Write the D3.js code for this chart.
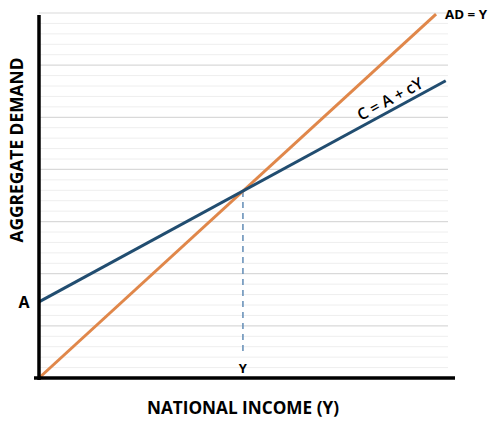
<!DOCTYPE html>
<html>
<head>
<meta charset="utf-8">
<script src="https://cdn.jsdelivr.net/npm/d3@7"></script>
<style>
  body { margin: 0; background: #fff; }
  svg { display: block; }
</style>
</head>
<body>
<div id="chart"></div>
<script>
// --- data ---
const adPoints = [[0, 0], [6.98, 6.98]];            // AD = Y (45 degree line)
const consPoints = [[0, 1.46], [7.15, 5.70]];       // C = A + cY
const equilibriumY = 3.585;
const yMajorTicks = [0, 1, 2, 3, 4, 5, 6, 7];
const minorPerMajor = 5;
const lineLabels = ["AD = Y", "C = A + cY"];
const axisTitles = ["NATIONAL INCOME (Y)", "AGGREGATE DEMAND"];

const width = 500, height = 421;
const x0 = 39, yBottom = 378;

const x = d3.scaleLinear().domain([0, 7.19]).range([x0, 448]);
const y = d3.scaleLinear().domain([0, 7]).range([yBottom, 13]);

const svg = d3.select("#chart").append("svg")
  .attr("width", width)
  .attr("height", height)
  .style("font-family", "'Open Sans', sans-serif");

// grid lines (minor then major)
const minorTicks = d3.range(0, 7 * minorPerMajor + 1).map(i => i / minorPerMajor)
  .filter(v => !yMajorTicks.includes(Math.round(v * 1000) / 1000));

svg.append("g").selectAll("line")
  .data(minorTicks)
  .join("line")
  .attr("x1", x(0)).attr("x2", x(7.19))
  .attr("y1", d => y(d)).attr("y2", d => y(d))
  .attr("stroke", "#eeeeee").attr("stroke-width", 1);

svg.append("g").selectAll("line")
  .data(yMajorTicks.filter(d => d > 0))
  .join("line")
  .attr("x1", x(0)).attr("x2", x(7.19))
  .attr("y1", d => y(d)).attr("y2", d => y(d))
  .attr("stroke", "#d9d9d9").attr("stroke-width", 1.2);

const line = d3.line().x(d => x(d[0])).y(d => y(d[1]));
const consAt = v => consPoints[0][1] + (consPoints[1][1] - consPoints[0][1]) / (consPoints[1][0] - consPoints[0][0]) * v;

// dashed drop line at equilibrium
svg.append("line")
  .attr("x1", x(equilibriumY)).attr("x2", x(equilibriumY))
  .attr("y1", y(consAt(equilibriumY))).attr("y2", 352)
  .attr("stroke", "#6b93ba").attr("stroke-width", 1.6)
  .attr("stroke-dasharray", "6,5");

// AD = Y
svg.append("path")
  .datum(adPoints)
  .attr("d", line)
  .attr("fill", "none")
  .attr("stroke", "#e0874a")
  .attr("stroke-width", 3);

// C = A + cY
svg.append("path")
  .datum(consPoints)
  .attr("d", line)
  .attr("fill", "none")
  .attr("stroke", "#214d70")
  .attr("stroke-width", 3);

// axes
svg.append("line")
  .attr("x1", x0).attr("x2", x0)
  .attr("y1", 15).attr("y2", yBottom + 2)
  .attr("stroke", "#000").attr("stroke-width", 3.5);
svg.append("line")
  .attr("x1", 34).attr("x2", 455)
  .attr("y1", yBottom).attr("y2", yBottom)
  .attr("stroke", "#000").attr("stroke-width", 3.5);

// labels
svg.append("text")
  .attr("x", x(adPoints[1][0]) + 9).attr("y", y(adPoints[1][1]) + 5)
  .attr("font-size", 13).attr("font-weight", "bold")
  .attr("textLength", 42).attr("lengthAdjust", "spacingAndGlyphs")
  .text(lineLabels[0]);

const ang = Math.atan2(y(consPoints[1][1]) - y(consPoints[0][1]), x(consPoints[1][0]) - x(consPoints[0][0])) * 180 / Math.PI;
const lx = x(6.26), ly = y(consAt(6.26));
svg.append("text")
  .attr("transform", `translate(${lx},${ly}) rotate(${ang}) translate(0,-5)`)
  .attr("text-anchor", "middle")
  .attr("font-size", 16)
  .attr("font-weight", 600)
  .attr("textLength", 72).attr("lengthAdjust", "spacingAndGlyphs")
  .text(lineLabels[1]);

svg.append("text")
  .attr("x", 24).attr("y", y(consPoints[0][1]) + 6)
  .attr("text-anchor", "middle")
  .attr("font-size", 16).attr("font-weight", "bold")
  .text("A");

svg.append("text")
  .attr("x", x(equilibriumY)).attr("y", 373)
  .attr("text-anchor", "middle")
  .attr("font-size", 13).attr("font-weight", "bold")
  .text("Y");

svg.append("text")
  .attr("x", 243).attr("y", 414)
  .attr("text-anchor", "middle")
  .attr("font-size", 17).attr("font-weight", "bold")
  .attr("textLength", 192).attr("lengthAdjust", "spacingAndGlyphs")
  .text(axisTitles[0]);

svg.append("text")
  .attr("transform", "translate(23,150) rotate(-90)")
  .attr("text-anchor", "middle")
  .attr("font-size", 18).attr("font-weight", "bold")
  .attr("textLength", 185).attr("lengthAdjust", "spacingAndGlyphs")
  .text(axisTitles[1]);
</script>
</body>
</html>
